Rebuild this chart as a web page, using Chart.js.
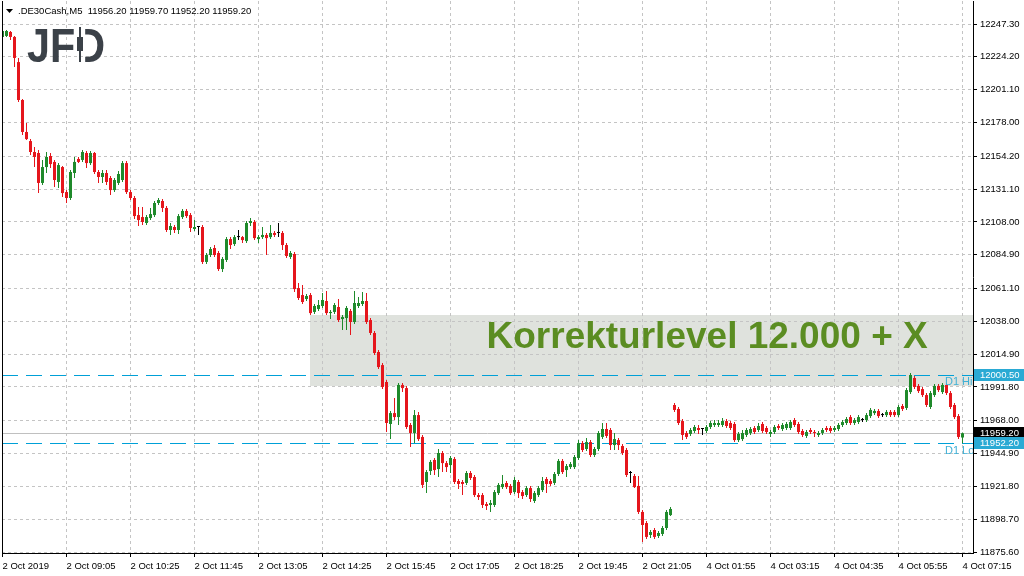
<!DOCTYPE html>
<html>
<head>
<meta charset="utf-8">
<title>.DE30Cash,M5</title>
<script src="https://cdn.jsdelivr.net/npm/chart.js@4.4.1/dist/chart.umd.min.js"></script>
<style>
  html, body { margin: 0; padding: 0; background: #ffffff; }
  #wrap { width: 1024px; height: 576px; }
</style>
</head>
<body>
<div id="wrap"><canvas id="canvas" width="1024" height="576"></canvas></div>
<script>
/* M5 candles: 2 Oct 07:45 .. 21:40, then 4 Oct 01:15 .. 07:15 (3 Oct no trading) */
var opens = [
  12238.2, 12238.9, 12241.7, 12238.2, 12220.5, 12193.8, 12171.3, 12164.9, 12157.2, 12156.5,
  12135.4, 12146.6, 12154.4, 12150.2, 12136.1, 12146.6, 12129.0, 12124.8, 12142.4, 12152.3,
  12151.6, 12156.5, 12149.4, 12156.5, 12143.1, 12139.6, 12142.4, 12138.9, 12130.4, 12135.4,
  12137.5, 12149.4, 12129.0, 12124.8, 12112.8, 12111.4, 12107.2, 12110.7, 12112.8, 12121.3,
  12122.7, 12117.8, 12102.3, 12104.4, 12102.3, 12111.4, 12115.7, 12112.8, 12103.0, 12104.4,
  12104.4, 12079.8, 12084.7, 12089.6, 12086.1, 12074.8, 12081.2, 12095.9, 12092.4, 12097.3,
  12097.3, 12094.5, 12107.2, 12107.9, 12095.9, 12097.3, 12098.8, 12097.3, 12100.2, 12100.2,
  12100.2, 12091.7, 12083.3, 12085.4, 12061.4, 12056.5, 12053.7, 12056.5, 12044.6, 12046.7,
  12048.8, 12052.3, 12043.8, 12044.6, 12048.1, 12039.6, 12040.3, 12045.3, 12037.5, 12048.8,
  12050.2, 12052.3, 12038.9, 12029.8, 12016.4, 12007.2, 11995.3, 11965.7, 11973.4, 11970.6,
  11993.2, 11991.0, 11965.0, 11959.4, 11972.0, 11956.6, 11924.9, 11932.6, 11940.4, 11934.0,
  11945.3, 11938.2, 11936.8, 11941.1, 11925.6, 11924.9, 11924.2, 11931.2, 11928.4, 11915.7,
  11915.7, 11909.4, 11908.7, 11908.7, 11917.1, 11921.3, 11924.2, 11922.1, 11917.8, 11924.9,
  11917.8, 11915.7, 11920.6, 11911.5, 11915.7, 11919.2, 11927.0, 11925.6, 11924.2, 11930.5,
  11939.7, 11933.3, 11935.4, 11935.4, 11941.8, 11952.3, 11948.1, 11953.0, 11943.9, 11948.1,
  11956.6, 11962.2, 11961.5, 11950.9, 11954.4, 11950.2, 11947.4, 11931.2, 11929.1, 11922.1,
  11903.8, 11896.0, 11887.6, 11891.1, 11886.9, 11888.3, 11892.5, 11901.6, 11979.1, 11976.3,
  11967.8, 11959.4, 11958.7, 11960.8, 11962.9, 11962.2, 11960.8, 11963.6, 11965.0, 11965.0,
  11965.0, 11967.8, 11966.4, 11965.7, 11954.4, 11955.1, 11958.0, 11959.4, 11962.9, 11961.5,
  11965.7, 11962.9, 11958.7, 11960.1, 11964.3, 11962.2, 11962.9, 11962.9, 11968.5, 11965.7,
  11960.8, 11957.3, 11961.5, 11960.1, 11958.0, 11959.4, 11962.9, 11962.9, 11961.5, 11962.2,
  11965.0, 11966.4, 11970.6, 11966.4, 11967.1, 11968.5, 11968.5, 11971.3, 11973.4, 11974.9,
  11972.0, 11972.0, 11974.2, 11974.2, 11972.0, 11978.4, 11977.0, 11988.2, 11998.1, 11992.5,
  11990.3, 11986.1, 11977.7, 11986.1, 11992.5, 11988.2, 11993.2, 11987.5, 11979.1, 11971.3,
  11956.2
];
var highs = [
  12243.1, 12243.1, 12242.4, 12238.9, 12223.4, 12194.5, 12177.6, 12166.3, 12160.7, 12158.6,
  12151.6, 12157.2, 12156.5, 12151.6, 12149.4, 12147.3, 12130.4, 12144.5, 12153.7, 12153.7,
  12158.6, 12157.9, 12157.9, 12157.2, 12144.5, 12144.5, 12144.5, 12140.3, 12138.9, 12143.8,
  12150.9, 12150.9, 12130.4, 12126.2, 12118.5, 12118.5, 12112.8, 12117.8, 12122.7, 12124.8,
  12124.1, 12119.2, 12107.2, 12105.8, 12113.5, 12117.1, 12117.1, 12114.2, 12109.3, 12105.1,
  12105.8, 12086.1, 12090.3, 12091.7, 12087.5, 12083.3, 12097.3, 12097.3, 12098.8, 12102.3,
  12098.0, 12108.6, 12110.7, 12109.3, 12098.8, 12104.4, 12100.2, 12105.8, 12101.6, 12107.2,
  12101.6, 12093.1, 12087.5, 12086.8, 12065.0, 12063.6, 12057.2, 12057.9, 12050.2, 12053.0,
  12057.9, 12059.3, 12046.0, 12050.9, 12053.7, 12042.4, 12048.8, 12046.7, 12059.3, 12055.1,
  12058.6, 12057.9, 12040.3, 12031.2, 12017.8, 12008.6, 11996.7, 11974.9, 11984.0, 11994.6,
  11994.6, 11992.5, 11966.4, 11975.6, 11974.2, 11958.0, 11933.3, 11940.4, 11941.8, 11948.1,
  11946.7, 11939.7, 11943.2, 11942.5, 11927.0, 11926.3, 11932.6, 11932.6, 11929.8, 11917.1,
  11917.1, 11910.8, 11912.2, 11919.2, 11924.2, 11929.8, 11925.6, 11923.5, 11928.4, 11926.3,
  11919.2, 11922.1, 11922.1, 11918.5, 11922.1, 11928.4, 11928.4, 11927.0, 11931.9, 11941.1,
  11941.1, 11937.5, 11938.9, 11943.9, 11954.4, 11953.7, 11955.8, 11954.4, 11949.5, 11960.8,
  11966.4, 11966.4, 11962.9, 11959.4, 11955.8, 11951.6, 11948.8, 11932.6, 11930.5, 11929.1,
  11905.2, 11897.4, 11891.1, 11892.5, 11890.4, 11893.9, 11905.2, 11907.3, 11980.5, 11977.7,
  11969.2, 11960.8, 11962.9, 11965.0, 11965.0, 11962.2, 11965.0, 11967.8, 11968.5, 11968.5,
  11969.9, 11969.2, 11967.8, 11967.1, 11960.1, 11961.5, 11962.9, 11963.6, 11964.3, 11966.4,
  11967.1, 11964.3, 11961.5, 11965.0, 11965.7, 11966.4, 11967.1, 11968.5, 11969.9, 11967.1,
  11962.2, 11961.5, 11962.9, 11961.5, 11960.8, 11962.9, 11964.3, 11964.3, 11964.3, 11966.4,
  11968.5, 11970.6, 11972.0, 11969.9, 11972.0, 11969.9, 11973.4, 11977.0, 11976.3, 11976.3,
  11973.4, 11975.6, 11975.6, 11975.6, 11979.1, 11979.8, 11991.0, 12001.6, 11999.5, 11993.9,
  11991.8, 11987.5, 11988.9, 11993.9, 11993.9, 11994.6, 11994.6, 11988.9, 11980.5, 11972.7,
  11959.7
];
var lows = [
  12237.4, 12238.2, 12236.0, 12217.0, 12192.4, 12169.2, 12165.6, 12155.1, 12146.6, 12128.3,
  12134.0, 12142.4, 12145.9, 12132.6, 12131.8, 12125.5, 12121.3, 12123.4, 12138.9, 12149.4,
  12150.2, 12145.9, 12148.0, 12141.7, 12135.4, 12135.4, 12134.0, 12126.9, 12129.0, 12134.0,
  12136.1, 12127.6, 12123.4, 12110.0, 12105.1, 12105.8, 12105.8, 12109.3, 12111.4, 12119.9,
  12115.0, 12100.9, 12098.8, 12100.2, 12099.5, 12110.0, 12110.7, 12100.9, 12101.6, 12098.8,
  12078.3, 12078.3, 12083.3, 12083.3, 12073.4, 12072.7, 12079.8, 12088.9, 12091.0, 12095.2,
  12093.1, 12093.1, 12105.1, 12095.2, 12093.1, 12095.9, 12084.7, 12095.9, 12097.3, 12097.3,
  12088.2, 12082.6, 12081.9, 12058.6, 12053.0, 12050.2, 12052.3, 12042.4, 12043.1, 12045.3,
  12047.4, 12042.4, 12039.6, 12043.1, 12037.5, 12031.9, 12031.9, 12028.4, 12036.1, 12047.4,
  12048.8, 12036.1, 12028.4, 12014.3, 12004.4, 11990.3, 11960.1, 11955.1, 11968.5, 11965.0,
  11988.2, 11962.2, 11949.5, 11952.3, 11953.7, 11920.6, 11917.1, 11929.8, 11929.8, 11928.4,
  11931.9, 11931.9, 11931.2, 11923.5, 11920.0, 11915.7, 11922.8, 11926.3, 11914.3, 11912.2,
  11906.6, 11905.2, 11903.8, 11907.3, 11915.7, 11919.9, 11919.9, 11915.7, 11916.4, 11913.6,
  11912.9, 11914.3, 11910.8, 11910.1, 11914.3, 11917.8, 11917.1, 11922.1, 11922.8, 11929.1,
  11930.5, 11928.4, 11934.0, 11934.0, 11940.4, 11946.0, 11946.7, 11942.5, 11942.5, 11946.7,
  11955.1, 11955.8, 11947.4, 11947.4, 11947.4, 11943.9, 11928.4, 11924.2, 11920.6, 11902.3,
  11882.6, 11884.7, 11885.4, 11884.7, 11885.4, 11886.9, 11891.1, 11901.0, 11974.2, 11965.0,
  11954.4, 11955.1, 11957.3, 11959.4, 11958.7, 11958.0, 11959.4, 11962.2, 11963.6, 11963.6,
  11963.6, 11962.9, 11961.5, 11953.0, 11953.0, 11953.7, 11956.6, 11958.0, 11958.7, 11960.1,
  11959.4, 11958.7, 11956.6, 11958.7, 11961.5, 11960.8, 11961.5, 11961.5, 11963.6, 11958.7,
  11956.6, 11955.8, 11958.7, 11956.6, 11956.6, 11958.0, 11960.1, 11959.4, 11960.1, 11960.8,
  11963.6, 11965.0, 11965.0, 11965.0, 11965.7, 11967.1, 11967.1, 11969.9, 11972.0, 11969.9,
  11970.6, 11970.6, 11970.6, 11970.6, 11970.6, 11974.9, 11975.6, 11986.8, 11990.3, 11987.5,
  11984.7, 11977.7, 11976.3, 11984.7, 11988.2, 11986.8, 11986.1, 11976.3, 11969.2, 11955.1,
  11952.2
];
var closes = [
  12242.4, 12242.4, 12238.2, 12223.4, 12193.8, 12171.3, 12166.3, 12157.2, 12153.7, 12135.4,
  12146.6, 12153.7, 12148.7, 12137.5, 12148.0, 12128.3, 12124.8, 12143.1, 12150.2, 12150.2,
  12157.2, 12149.4, 12156.5, 12143.1, 12139.6, 12142.4, 12136.1, 12130.4, 12137.5, 12141.7,
  12149.4, 12129.0, 12124.8, 12112.1, 12109.3, 12107.9, 12111.4, 12113.5, 12121.3, 12123.4,
  12117.8, 12102.3, 12105.1, 12102.3, 12112.1, 12115.7, 12112.1, 12103.7, 12104.4, 12104.4,
  12079.8, 12084.7, 12088.9, 12084.7, 12074.8, 12081.9, 12095.9, 12091.7, 12097.3, 12097.3,
  12095.2, 12107.2, 12108.6, 12096.6, 12097.3, 12098.8, 12096.6, 12100.2, 12098.8, 12100.2,
  12091.7, 12084.0, 12086.1, 12060.7, 12054.4, 12051.6, 12055.8, 12043.8, 12048.8, 12049.5,
  12053.0, 12043.8, 12044.6, 12049.5, 12038.9, 12041.0, 12047.4, 12037.5, 12050.9, 12050.9,
  12052.3, 12037.5, 12029.8, 12015.7, 12005.8, 11991.8, 11966.4, 11973.4, 11970.6, 11993.2,
  11991.0, 11963.6, 11959.4, 11972.0, 11955.1, 11922.8, 11931.9, 11939.0, 11933.3, 11945.3,
  11938.2, 11935.4, 11941.8, 11924.9, 11923.5, 11923.5, 11931.2, 11927.7, 11915.7, 11914.3,
  11908.7, 11908.0, 11910.1, 11917.8, 11922.8, 11923.5, 11921.3, 11917.1, 11926.3, 11917.1,
  11915.0, 11920.6, 11912.9, 11917.1, 11920.6, 11925.6, 11923.5, 11923.5, 11930.5, 11939.7,
  11931.9, 11936.1, 11937.5, 11942.5, 11952.3, 11947.4, 11953.0, 11943.9, 11948.1, 11959.4,
  11962.2, 11957.3, 11950.9, 11955.1, 11950.9, 11945.3, 11929.8, 11931.2, 11921.3, 11903.8,
  11894.6, 11886.2, 11889.7, 11886.2, 11889.0, 11892.5, 11903.8, 11905.9, 11975.6, 11966.4,
  11958.0, 11956.6, 11961.5, 11963.6, 11961.5, 11962.2, 11963.6, 11966.4, 11966.4, 11966.4,
  11967.8, 11964.3, 11962.9, 11954.4, 11958.7, 11959.4, 11961.5, 11962.2, 11960.1, 11964.3,
  11960.8, 11960.1, 11960.1, 11963.6, 11962.9, 11965.0, 11965.7, 11967.1, 11965.0, 11960.1,
  11958.0, 11960.1, 11960.1, 11959.4, 11959.4, 11961.5, 11961.5, 11960.8, 11962.9, 11965.0,
  11967.1, 11969.2, 11966.4, 11968.5, 11970.6, 11968.5, 11972.0, 11975.6, 11974.9, 11971.3,
  11972.0, 11974.2, 11972.0, 11972.0, 11977.7, 11976.3, 11989.6, 12000.2, 11991.8, 11988.9,
  11986.1, 11979.1, 11987.5, 11992.5, 11989.6, 11993.2, 11987.5, 11977.7, 11970.6, 11956.6,
  11959.2
];

/* time axis: one label every 16 bars */
var xTickBars = [0, 16, 32, 48, 64, 80, 96, 112, 128, 144, 160, 176, 192, 208, 224, 240];
var xTickLabels = ['2 Oct 2019', '2 Oct 09:05', '2 Oct 10:25', '2 Oct 11:45', '2 Oct 13:05',
  '2 Oct 14:25', '2 Oct 15:45', '2 Oct 17:05', '2 Oct 18:25', '2 Oct 19:45', '2 Oct 21:05',
  '4 Oct 01:55', '4 Oct 03:15', '4 Oct 04:35', '4 Oct 05:55', '4 Oct 07:15'];
var yTickValues = [12247.30, 12224.20, 12201.10, 12178.00, 12154.20, 12131.10, 12108.00,
  12084.90, 12061.10, 12038.00, 12014.90, 11991.80, 11968.00, 11944.90, 11921.80, 11898.70, 11875.60];

/* levels and the marked zone */
var d1High = 12000.50;
var d1Low = 11952.20;
var bidPrice = 11959.20;
var zoneFromBar = 76.8;
var zoneHigh = 12042.5;
var zoneLow = 11992.3;
var zoneTextBar = 231.3;
var zoneTextPrice = 12026.3;
var zoneText = 'Korrekturlevel 12.000 + X';
var titleText = '.DE30Cash,M5  11956.20 11959.70 11952.20 11959.20';

var UP = '#1f8a2b';
var DOWN = '#e5161c';
var GRID = '#c4c4c4';
var CYAN = 'rgb(0, 160, 215)';

function candleColor(i) {
  if (closes[i] > opens[i]) return UP;
  if (closes[i] < opens[i]) return DOWN;
  return '#000000';
}

/* logo: J F and a D whose stem is a candle */
function drawLogo(ctx) {
  ctx.save();
  ctx.font = 'bold 48px "Liberation Sans", Arial, sans-serif';
  ctx.fillStyle = '#3b4148';
  ctx.textAlign = 'left';
  ctx.textBaseline = 'alphabetic';
  var s = 78 / ctx.measureText('JFD').width;
  var dx = 27 + ctx.measureText('JF').width * s;

  ctx.save();
  ctx.translate(27, 62);
  ctx.scale(s, 1);
  ctx.fillText('JF', 0, 0);
  ctx.restore();

  ctx.save();
  ctx.beginPath();
  ctx.rect(dx + 10, 0, 60, 80);
  ctx.clip();
  ctx.translate(dx, 62);
  ctx.scale(s, 1);
  ctx.fillText('D', 0, 0);
  ctx.restore();

  var cx = Math.round(dx + 5);
  ctx.fillRect(cx - 1, 27, 2, 35);
  ctx.fillRect(cx - 3, 37, 6, 14);
  ctx.restore();
}

/* draws everything MT4 puts around the candles */
var mt4Plugin = {
  id: 'mt4',
  beforeDraw: function(chart) {
    var ctx = chart.ctx, a = chart.chartArea, x = chart.scales.x, y = chart.scales.y;
    ctx.save();
    ctx.fillStyle = '#ffffff';
    ctx.fillRect(0, 0, chart.width, chart.height);
    var zx = Math.round(x.getPixelForValue(zoneFromBar));
    var zt = Math.round(y.getPixelForValue(zoneHigh));
    var zb = Math.round(y.getPixelForValue(zoneLow));
    ctx.fillStyle = '#dfe2dd';
    ctx.fillRect(zx, zt, a.right - zx, zb - zt);
    ctx.restore();
  },
  beforeDatasetsDraw: function(chart) {
    var ctx = chart.ctx, a = chart.chartArea, y = chart.scales.y;
    ctx.save();
    ctx.lineWidth = 1;
    // bid line, solid grey
    var pb = Math.round(y.getPixelForValue(bidPrice)) + 0.5;
    ctx.strokeStyle = '#c0c0c0';
    ctx.beginPath();
    ctx.moveTo(a.left, pb);
    ctx.lineTo(a.right, pb);
    ctx.stroke();
    // daily high / low, long cyan dashes
    ctx.fillStyle = CYAN;
    [d1High, d1Low].forEach(function(v) {
      var py = Math.round(y.getPixelForValue(v));
      for (var px = a.left; px < a.right; px += 24) {
        ctx.fillRect(px, py, Math.min(16, a.right - px), 1);
      }
    });
    ctx.restore();
  },
  afterDatasetsDraw: function(chart) {
    var ctx = chart.ctx, a = chart.chartArea, x = chart.scales.x, y = chart.scales.y;
    ctx.save();

    // zone caption
    ctx.font = 'bold 37px "Liberation Sans", Arial, sans-serif';
    ctx.fillStyle = '#5b8d22';
    ctx.textAlign = 'right';
    ctx.textBaseline = 'middle';
    ctx.fillText(zoneText, x.getPixelForValue(zoneTextBar), y.getPixelForValue(zoneTextPrice));

    // level names, cut at the price axis
    ctx.save();
    ctx.beginPath();
    ctx.rect(a.left, a.top, a.right - a.left, a.bottom - a.top);
    ctx.clip();
    ctx.font = '11px "Liberation Sans", Arial, sans-serif';
    ctx.fillStyle = '#3fb0d6';
    ctx.textAlign = 'left';
    ctx.textBaseline = 'top';
    ctx.fillText('D1 High', a.right - 28, y.getPixelForValue(d1High) + 2);
    ctx.fillText('D1 Low', a.right - 28, y.getPixelForValue(d1Low) + 2);
    ctx.restore();

    drawLogo(ctx);
    ctx.restore();
  },
  afterDraw: function(chart) {
    var ctx = chart.ctx, a = chart.chartArea, y = chart.scales.y;
    ctx.save();

    // frame
    ctx.strokeStyle = '#000000';
    ctx.lineWidth = 1;
    ctx.beginPath();
    ctx.moveTo(a.left + 0.5, a.top);
    ctx.lineTo(a.left + 0.5, a.bottom);
    ctx.stroke();

    // price tags on the axis
    ctx.font = '9.5px "Liberation Sans", Arial, sans-serif';
    ctx.textAlign = 'left';
    ctx.textBaseline = 'middle';
    [[d1High, '#2aaad4', '#ffffff'], [bidPrice, '#000000', '#ffffff'], [d1Low, '#2aaad4', '#ffffff']].forEach(function(t) {
      var py = Math.round(y.getPixelForValue(t[0]));
      ctx.fillStyle = t[1];
      ctx.fillRect(a.right + 1, py - 6, chart.width - a.right - 1, 12);
      ctx.fillStyle = t[2];
      ctx.fillText(t[0].toFixed(2), a.right + 7, py);
    });

    // title
    ctx.fillStyle = '#000000';
    ctx.beginPath();
    ctx.moveTo(6, 9);
    ctx.lineTo(13, 9);
    ctx.lineTo(9.5, 13);
    ctx.closePath();
    ctx.fill();
    ctx.fillText(titleText, 18, 11);

    ctx.restore();
  }
};

var candleData = {
  datasets: [
    {
      label: 'wick',
      data: opens.map(function(o, i) { return { x: i, y: [lows[i], highs[i]] }; }),
      backgroundColor: function(c) { return candleColor(c.dataIndex); },
      barThickness: 1,
      grouped: false,
      inflateAmount: 0,
      borderWidth: 0,
      order: 2
    },
    {
      label: 'body',
      data: opens.map(function(o, i) { return { x: i, y: [Math.min(o, closes[i]), Math.max(o, closes[i])] }; }),
      backgroundColor: function(c) { return candleColor(c.dataIndex); },
      barThickness: 3,
      minBarLength: 1,
      grouped: false,
      inflateAmount: 0,
      borderWidth: 0,
      order: 1
    }
  ]
};

Chart.defaults.font.family = '"Liberation Sans", Arial, sans-serif';
Chart.defaults.font.size = 9.5;
Chart.defaults.color = '#000000';

/* the axes must not reserve room for half labels: MT4 keeps the plot flush */
function noPadding(axis) {
  axis.paddingTop = 0;
  axis.paddingBottom = 0;
  axis.paddingLeft = 0;
  axis.paddingRight = 0;
}

var chart = new Chart(document.getElementById('canvas').getContext('2d'), {
  type: 'bar',
  data: candleData,
  options: {
    responsive: false,
    devicePixelRatio: 1,
    animation: false,
    events: [],
    layout: { padding: { left: 2, top: 1, right: 0, bottom: 0 } },
    plugins: { legend: { display: false }, tooltip: { enabled: false } },
    scales: {
      x: {
        type: 'linear',
        min: -0.125,
        max: 242.625,
        offset: false,
        afterBuildTicks: function(axis) {
          axis.ticks = xTickBars.map(function(v) { return { value: v }; });
        },
        afterFit: function(axis) { axis.height = 23; noPadding(axis); },
        ticks: {
          autoSkip: false,
          maxRotation: 0,
          align: 'start',
          padding: 4,
          callback: function(v, i) { return xTickLabels[i]; }
        },
        grid: { color: GRID, offset: false, tickLength: 4, tickColor: '#000000' },
        border: { color: '#000000', dash: [3, 3] }
      },
      y: {
        position: 'right',
        min: 11874.9,
        max: 12263.5,
        beginAtZero: false,
        afterBuildTicks: function(axis) {
          axis.ticks = yTickValues.map(function(v) { return { value: v }; });
        },
        afterFit: function(axis) { axis.width = 51; noPadding(axis); },
        ticks: {
          padding: 3,
          callback: function(v) { return v.toFixed(2); }
        },
        grid: { color: GRID, tickLength: 4, tickColor: '#000000' },
        border: { color: '#000000', dash: [3, 3] }
      }
    }
  },
  plugins: [mt4Plugin]
});
</script>
</body>
</html>
